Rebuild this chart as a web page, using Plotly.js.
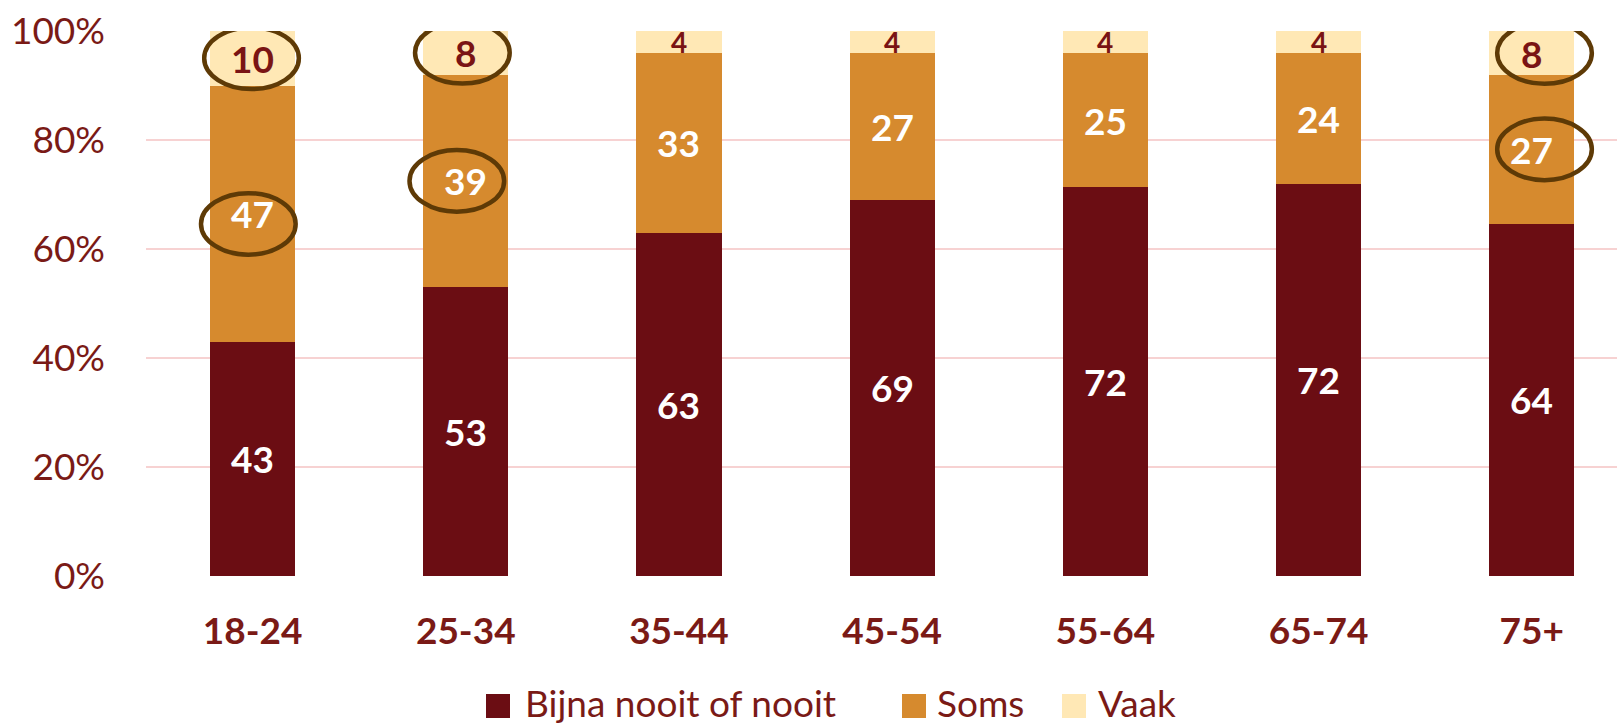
<!DOCTYPE html>
<html>
<head>
<meta charset="utf-8">
<script src="https://cdn.plot.ly/plotly-3.0.1.min.js"></script>
<style>
  html, body { margin: 0; padding: 0; background: #ffffff; }
  #chart { width: 1617px; height: 726px; }
</style>
</head>
<body>
<div id="chart"></div>
<script>
// ---- data ----
var categories = ['18-24', '25-34', '35-44', '45-54', '55-64', '65-74', '75+'];
var bijnaNooit = [43, 53, 63, 69, 72, 72, 64];
var soms       = [47, 39, 33, 27, 25, 24, 27];
var vaak       = [10, 8, 4, 4, 4, 4, 8];
var seriesNames = ['Bijna nooit of nooit', 'Soms', 'Vaak'];
var yTickValues = [0, 20, 40, 60, 80, 100];
// highlighted labels (category index, series index)
var highlightCats   = [0, 0, 1, 1, 6, 6];
var highlightSeries = [2, 1, 2, 1, 2, 1];

// ---- styles ----
var colors = ['#6B0D13', '#D68A2E', '#FFE8B5'];
var labelColors = ['#FFFFFF', '#FFFFFF', '#7A1414'];
var textDark = '#7A1A16';
var fontFam = 'Lato, "Open Sans", sans-serif';
var ellipseDx = [-0.005, -0.02, -0.016, -0.042, 0.06, 0.06];
var ellipseDy = [0, -1.9, 0, 0, 0, 0];

// plot area in pixels (for placing the legend in paper units)
var M = { l: 146, r: 0, t: 31, b: 150 };
var W = 1617, H = 726;
var plotW = W - M.l - M.r, plotH = H - M.t - M.b;
function px2x(px) { return (px - M.l) / plotW; }
function py2y(py) { return (H - M.b - py) / plotH; }
var legendMarkerLeft = [486, 902, 1062];
var legendTextLeft   = [523, 935, 1096];
var legendMarkerY = 706;
var legendTextY = 702;
var legendBox = 24;

var seriesValues = [bijnaNooit, soms, vaak];
var xIdx = categories.map(function (c, i) { return i; });
var totals = xIdx.map(function (i) {
  return seriesValues.reduce(function (a, s) { return a + s[i]; }, 0);
});
function segMid(ci, si) {
  var below = 0;
  for (var s = 0; s < si; s++) below += seriesValues[s][ci];
  return (below + seriesValues[si][ci] / 2) / totals[ci] * 100;
}

var traces = seriesValues.map(function (vals, s) {
  return {
    type: 'bar',
    name: seriesNames[s],
    x: xIdx,
    y: vals,
    marker: { color: colors[s], line: { width: 0 } },
    width: 0.4,
    hoverinfo: 'skip',
    showlegend: false
  };
});

// value labels, placed at each segment's middle
var annotations = [];
seriesValues.forEach(function (vals, s) {
  vals.forEach(function (v, i) {
    annotations.push({
      xref: 'x', yref: 'y', x: i, y: segMid(i, s),
      text: String(v), showarrow: false,
      xanchor: 'center', yanchor: 'middle',
      font: { family: fontFam, size: v <= 4 ? 28 : 37, color: labelColors[s], weight: 'bold' }
    });
  });
});

// ellipse shapes around highlighted labels
var shapes = highlightCats.map(function (ci, k) {
  var si = highlightSeries[k];
  var mid = segMid(ci, si) + ellipseDy[k];
  var cx = ci + ellipseDx[k];
  return {
    type: 'circle', xref: 'x', yref: 'y',
    x0: cx - 0.222, x1: cx + 0.222,
    y0: mid - 5.65, y1: mid + 5.65,
    line: { color: '#5E3A06', width: 4.5 },
    fillcolor: 'rgba(0,0,0,0)',
    layer: 'above'
  };
});

// legend (squares + names)
seriesNames.forEach(function (name, s) {
  shapes.push({
    type: 'rect', xref: 'paper', yref: 'paper',
    x0: px2x(legendMarkerLeft[s]), x1: px2x(legendMarkerLeft[s] + legendBox),
    y0: py2y(legendMarkerY + legendBox / 2), y1: py2y(legendMarkerY - legendBox / 2),
    fillcolor: colors[s], line: { width: 0 }, layer: 'above'
  });
  annotations.push({
    xref: 'paper', yref: 'paper',
    x: px2x(legendTextLeft[s]), y: py2y(legendTextY),
    xanchor: 'left', yanchor: 'middle',
    text: name, showarrow: false,
    font: { family: fontFam, size: 37, color: textDark }
  });
});

var layout = {
  width: W, height: H,
  margin: { l: M.l, r: M.r, t: M.t, b: M.b, pad: 0, autoexpand: false },
  paper_bgcolor: '#ffffff', plot_bgcolor: '#ffffff',
  barmode: 'stack',
  barnorm: 'percent',
  font: { family: fontFam, color: textDark },
  showlegend: false,
  xaxis: {
    range: [-0.5, 6.4],
    tickvals: xIdx,
    ticktext: categories,
    tickfont: { family: fontFam, size: 37, color: textDark, weight: 'bold' },
    showgrid: false, zeroline: false, showline: false,
    ticks: '', ticklabelstandoff: 30,
    fixedrange: true
  },
  yaxis: {
    range: [0, 100],
    tickvals: yTickValues,
    ticktext: yTickValues.map(function (v) { return v + '%'; }),
    tickfont: { family: fontFam, size: 37, color: textDark },
    showgrid: true, gridcolor: '#F7D2D2', gridwidth: 2,
    zeroline: false, showline: false,
    ticks: '', ticklabelstandoff: 40,
    fixedrange: true
  },
  shapes: shapes,
  annotations: annotations
};

Plotly.newPlot('chart', traces, layout, { displayModeBar: false, staticPlot: true });
</script>
</body>
</html>
